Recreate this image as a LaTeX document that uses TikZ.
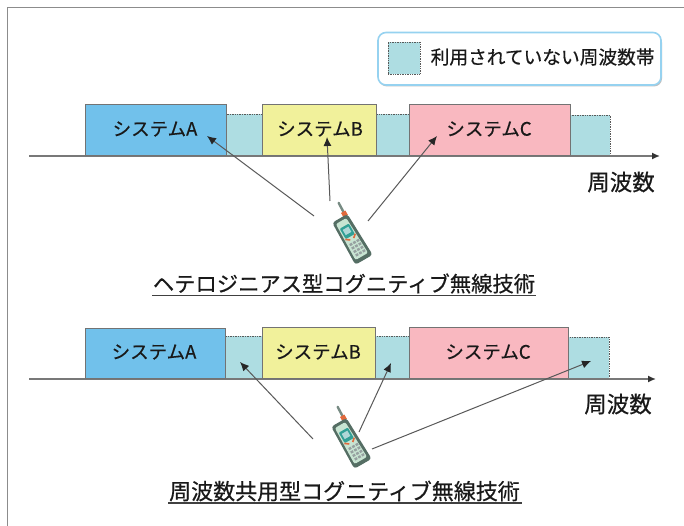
\documentclass[tikz,border=0pt]{standalone}
\usepackage{fontspec}
\setmainfont[FakeBold=0.5]{Noto Sans CJK JP}
\usetikzlibrary{arrows.meta,calc}
\definecolor{lineGray}{RGB}{120,120,120}
\definecolor{freeBand}{RGB}{174,221,226}
\definecolor{sysA}{RGB}{113,193,235}
\definecolor{sysB}{RGB}{241,241,155}
\definecolor{sysC}{RGB}{249,184,192}
\definecolor{legendEdge}{RGB}{150,210,240}
\definecolor{shellDark}{RGB}{85,110,100}
\definecolor{shellPale}{RGB}{200,228,210}
\definecolor{screenTeal}{RGB}{50,160,150}
\definecolor{screenPale}{RGB}{175,215,215}
\definecolor{keyRed}{RGB}{225,105,60}
\definecolor{keyGray}{RGB}{150,160,160}
\tikzset{
  band/.style={draw=black!65,line width=0.7pt,densely dotted,fill=freeBand},
  sysbox/.style={draw=black!55,line width=1pt,anchor=south west,inner sep=0pt},
  sysname/.style={font=\fontsize{18.5}{20}\selectfont,text=black!90},
  axis/.style={draw=lineGray,line width=1.5pt,-{Latex[length=8pt,width=7pt,black!80]}},
  ray/.style={draw=black!65,line width=1pt,-{Latex[length=9pt,width=8pt,black!85]}},
  title/.style={font=\fontsize{21.3}{24}\selectfont,text=black!90,inner sep=0pt},
  subtitle/.style={font=\fontsize{22}{24}\selectfont,text=black!90,inner sep=0pt},
  freqlabel/.style={font=\fontsize{22.5}{24}\selectfont,text=black!90,inner sep=0pt},
  rule/.style={draw=black!75,line width=1.5pt},
  frame/.style={draw=black!45,line width=1.2pt},
  % handset drawn around its own centre, tilted
  pics/handset/.style={code={
    \begin{scope}[rotate=30]
      \draw[shellDark!80,line width=2.4pt,line cap=round] (6,-23) -- (6.5,-38);
      \fill[keyRed] (3.5,-28) rectangle (8.5,-23);
      \fill[shellDark,rounded corners=3pt] (-9,-24) -- (8.5,-24) -- (10,24) -- (-10,24) -- cycle;
      \fill[shellPale,rounded corners=2pt] (-6.5,-21) -- (5.5,-21) -- (7,20) -- (-7.5,20) -- cycle;
      \fill[screenTeal,rounded corners=1pt] (-5.5,-15) rectangle (5,-3);
      \fill[screenPale] (-3.5,-12.5) rectangle (3,-6.5);
      \draw[keyRed,line width=1.6pt] (-6,-3) -- (-2,0) (5.5,-3) -- (2,0);
      \foreach \yy in {3,7,...,17}{
        \foreach \xx in {-5,-1,3}{
          \fill[keyGray] (\xx,\yy) rectangle +(2.8,2.4);
        }
      }
    \end{scope}
  }}
}
\begin{document}
\begin{tikzpicture}[x=1pt,y=-1pt]
\useasboundingbox (0,0) rectangle (684,526);
\fill[white] (0,0) rectangle (684,526);

% outer frame
\draw[frame] (7.5,526) -- (7.5,7.5) -- (684,7.5);

% legend with its soft shadow
\fill[black!25,rounded corners=8pt] (379,34.5) rectangle (662,86.5);
\draw[legendEdge,line width=1.6pt,fill=white,rounded corners=8pt] (378,32.5) rectangle (661,85);
\node[band,minimum width=32pt,minimum height=32pt,inner sep=0pt] (legendSwatch) at (404,58) {};
\node[font=\fontsize{18.7}{20}\selectfont,text=black!90,inner sep=0pt,anchor=west] (legendText) at (430.5,57) {利用されていない周波数帯};

% upper spectrum: unused bands first, then the systems on top
\fill[band] (226,114) rectangle (262,156);
\fill[band] (376,114) rectangle (409,156);
\fill[band] (570,115) rectangle (610,156);
\draw[axis] (29,156) -- (660,156);
\node[sysbox,fill=sysA,minimum width=141pt,minimum height=51pt] (a1) at (85,156) {};
\node[sysbox,fill=sysB,minimum width=114pt,minimum height=51pt] (b1) at (262,156) {};
\node[sysbox,fill=sysC,minimum width=161pt,minimum height=51pt] (c1) at (409,156) {};
\node[sysname] at (155,129) {システムA};
\node[sysname] at (320,129) {システムB};
\node[sysname] at (489,129) {システムC};
\node[freqlabel] (freq1) at (621,182) {周波数};

% upper handset and its links
\pic at (352,239) {handset};
\coordinate (p1a) at (314,216);
\coordinate (p1b) at (330,201);
\coordinate (p1c) at (368,221);
\coordinate (t1a) at (207,136);
\coordinate (t1b) at (327,137);
\coordinate (t1c) at (437,136);
\draw[ray] (p1a) -- (t1a);
\draw[ray] (p1b) -- (t1b);
\draw[ray] (p1c) -- (t1c);
\node[title] (title1) at (344,283.5) {ヘテロジニアス型コグニティブ無線技術};
\draw[rule] (152,295.5) -- (536,295.5);

% lower spectrum
\fill[band] (225,336) rectangle (262,379);
\fill[band] (375,336) rectangle (409,379);
\fill[band] (568,337) rectangle (609,379);
\draw[axis] (29,379) -- (656,379);
\node[sysbox,fill=sysA,minimum width=140pt,minimum height=50pt] (a2) at (85,379) {};
\node[sysbox,fill=sysB,minimum width=113pt,minimum height=51pt] (b2) at (262,379) {};
\node[sysbox,fill=sysC,minimum width=159pt,minimum height=51pt] (c2) at (409,379) {};
\node[sysname] at (154,352) {システムA};
\node[sysname] at (318,352) {システムB};
\node[sysname] at (488,352) {システムC};
\node[freqlabel] (freq2) at (618,404) {周波数};

% lower handset and its links
\pic at (351,443) {handset};
\coordinate (p2a) at (313,439);
\coordinate (p2b) at (359,432);
\coordinate (p2c) at (372,449);
\coordinate (t2a) at (240,362);
\coordinate (t2b) at (391,363);
\coordinate (t2c) at (591,361);
\draw[ray] (p2a) -- (t2a);
\draw[ray] (p2b) -- (t2b);
\draw[ray] (p2c) -- (t2c);
\node[subtitle] (title2) at (344.5,491) {周波数共用型コグニティブ無線技術};
\draw[rule] (168,503) -- (522,503);
\end{tikzpicture}
\end{document}
